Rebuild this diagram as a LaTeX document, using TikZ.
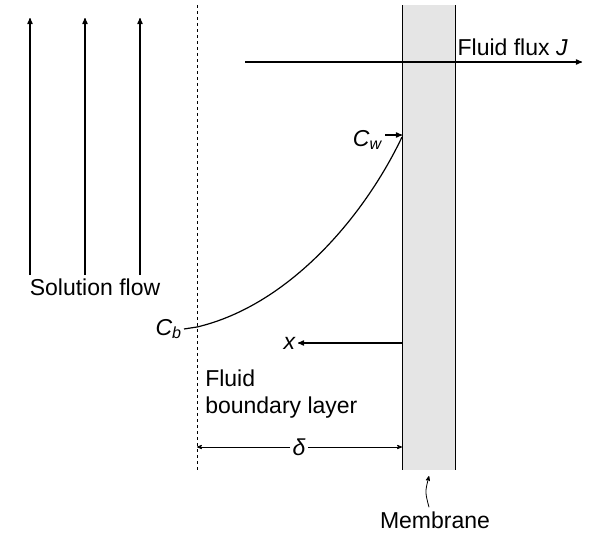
\documentclass[tikz,border=0pt]{standalone}
\usepackage{fontspec}
\setmainfont{Liberation Sans}
\usetikzlibrary{arrows}

\begin{document}
\begin{tikzpicture}[x=1pt,y=-1pt,>=stealth',semithick,
                    every node/.style={font=\fontsize{23}{27}\selectfont,inner sep=2pt}]
  \tikzstyle{flow}=[->,very thick]
  \useasboundingbox (0,0) rectangle (616,541);

  % membrane and boundary layer edge
  \fill[gray!20] (402,5) rectangle (455,470);
  \draw[thick] (402,5) -- (402,470) (455,5) -- (455,470);
  \draw[dashed,thick] (197,5) -- (197,470);

  % solution flow
  \foreach \xx in {30,85,140}
    \draw[flow] (\xx,275) -- (\xx,18);
  \node (sol) at (95,287) {Solution flow};

  % fluid flux
  \coordinate (fs) at (245,62);
  \coordinate (fe) at (582,62);
  \draw[flow] (fs) -- (fe);
  \node[anchor=south east] (flux) at (570,58) {Fluid flux \textit{J}};

  % concentration profile
  \coordinate (cb) at (197,327);
  \coordinate (cw) at (402,137);
  \draw[very thick] (cb) .. controls (290,305) and (365,215) .. (cw);
  \node[anchor=east] (Cb) at (184,329) {\textit{C}\textsubscript{\textit{b}}};
  \draw[very thick] (Cb.east) -- (cb);
  \node[anchor=east] (Cw) at (385,140) {\textit{C}\textsubscript{\textit{w}}};
  \draw[->,very thick] (Cw.east |- 0,135) coordinate (cwa) -- (cw |- cwa);

  % x axis
  \coordinate (xs) at (402,343);
  \node[anchor=east] (xl) at (298,343) {\textit{x}};
  \draw[flow] (xs) -- (xl.east);

  % boundary layer thickness
  \node[align=left,anchor=north west] (bl) at (203,368) {Fluid\\boundary layer};
  \coordinate (da) at (197,447);
  \coordinate (db) at (402,447);
  \node (delta) at (299,447) {\textit{δ}};
  \draw[->,thick] (delta.west) -- (da);
  \draw[->,thick] (delta.east) -- (db);

  % membrane label
  \node (mem) at (435,520) {Membrane};
  \draw[->,thick] (mem.north) ++(-6,-2) .. controls (425,492) .. (429,476);
\end{tikzpicture}
\end{document}
